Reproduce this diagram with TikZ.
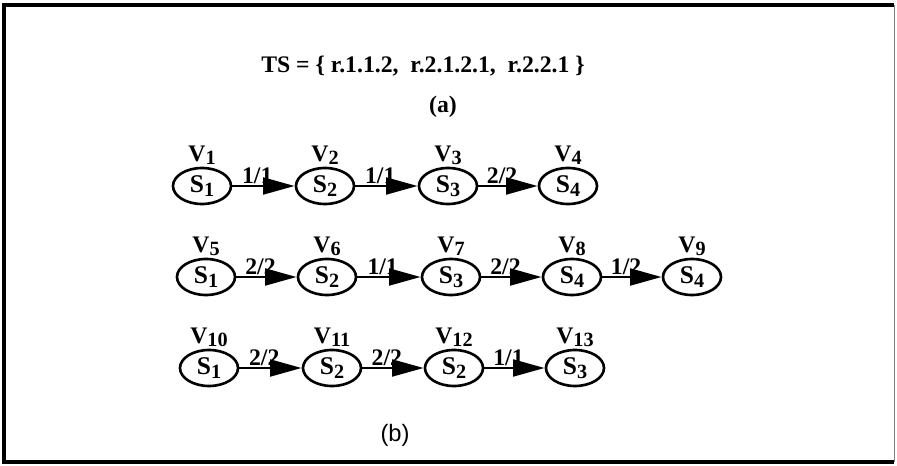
\documentclass[tikz,border=0pt]{standalone}
\usepackage{fontspec}
\setmainfont{Liberation Serif}
\setsansfont{Liberation Sans}
\usepackage{tikz}
\usetikzlibrary{positioning,arrows.meta,shapes}

\newcommand{\low}[1]{\raisebox{-0.3ex}{\fontsize{11.5}{12}\selectfont #1}}

\begin{document}
\begin{tikzpicture}[x=0.02cm, y=-0.02cm,
    st/.style={draw, ellipse, line width=1.5pt, minimum width=58*0.02cm, minimum height=36*0.02cm,
               inner sep=0pt, font=\fontsize{14.5}{15}\selectfont\bfseries},
    vl/.style={font=\fontsize{13.5}{14}\selectfont\bfseries, inner sep=1pt},
    wt/.style={above, pos=0.4, inner sep=0.3pt, font=\fontsize{13.5}{14}\selectfont\bfseries},
    arr/.style={-{Triangle[length=18pt, width=9.5pt]}, line width=1.7pt}
  ]
  \useasboundingbox (0,0) rectangle (897,466);
  \draw[line width=1.8pt] (894,5) -- (4,5) -- (4,462) -- (894,462);
  \draw[line width=0.4pt, gray] (894,5) -- (894,462);

  \node[font=\fontsize{13.5}{15}\selectfont\bfseries] (ts) at (423,66)
    {TS = \{ r.1.1.2,\ \ r.2.1.2.1,\ \ r.2.2.1 \}};
  \node[font=\fontsize{13.5}{15}\selectfont\bfseries] (capa) at (443,107) {(a)};
  \node[font=\fontsize{13.5}{15}\selectfont\sffamily] (capb) at (395,435) {(b)};

  % first row
  \node[st] (v1) at (202,186) {S\low{1}};
  \node[st] (v2) at (325,186) {S\low{2}};
  \node[st] (v3) at (448,186) {S\low{3}};
  \node[st] (v4) at (568,186) {S\low{4}};

  % second row
  \node[st] (v5) at (206,277) {S\low{1}};
  \node[st] (v6) at (327,277) {S\low{2}};
  \node[st] (v7) at (451,277) {S\low{3}};
  \node[st] (v8) at (572,277) {S\low{4}};
  \node[st] (v9) at (692,277) {S\low{4}};

  % third row
  \node[st] (v10) at (209,368) {S\low{1}};
  \node[st] (v11) at (332,368) {S\low{2}};
  \node[st] (v12) at (454,368) {S\low{2}};
  \node[st] (v13) at (575,368) {S\low{3}};

  \node[vl, above=0pt of v1]  {V\low{1}};
  \node[vl, above=0pt of v2]  {V\low{2}};
  \node[vl, above=0pt of v3]  {V\low{3}};
  \node[vl, above=0pt of v4]  {V\low{4}};
  \node[vl, above=0pt of v5]  {V\low{5}};
  \node[vl, above=0pt of v6]  {V\low{6}};
  \node[vl, above=0pt of v7]  {V\low{7}};
  \node[vl, above=0pt of v8]  {V\low{8}};
  \node[vl, above=0pt of v9]  {V\low{9}};
  \node[vl, above=0pt of v10] {V\low{10}};
  \node[vl, above=0pt of v11] {V\low{11}};
  \node[vl, above=0pt of v12] {V\low{12}};
  \node[vl, above=0pt of v13] {V\low{13}};

  \draw[arr] (v1) -- node[wt] {1/1} (v2);
  \draw[arr] (v2) -- node[wt] {1/1} (v3);
  \draw[arr] (v3) -- node[wt] {2/2} (v4);

  \draw[arr] (v5) -- node[wt] {2/2} (v6);
  \draw[arr] (v6) -- node[wt] {1/1} (v7);
  \draw[arr] (v7) -- node[wt] {2/2} (v8);
  \draw[arr] (v8) -- node[wt] {1/2} (v9);

  \draw[arr] (v10) -- node[wt] {2/2} (v11);
  \draw[arr] (v11) -- node[wt] {2/2} (v12);
  \draw[arr] (v12) -- node[wt] {1/1} (v13);
\end{tikzpicture}
\end{document}
